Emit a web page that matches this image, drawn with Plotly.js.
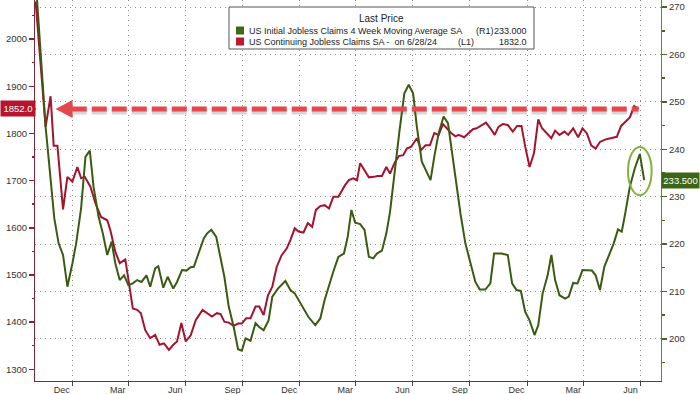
<!DOCTYPE html>
<html>
<head>
<meta charset="utf-8">
<script src="https://cdn.plot.ly/plotly-3.0.1.min.js"></script>
<style>
html,body{margin:0;padding:0;background:#fff;}
#chart{width:700px;height:394px;}
</style>
</head>
<body>
<div id="chart"></div>
<script>
// ---- Data ----
const continuingDates = ['2021-11-03','2021-11-19','2021-11-27','2021-12-02','2021-12-08','2021-12-17','2021-12-24','2022-01-01','2022-01-09','2022-01-15','2022-01-21','2022-01-30','2022-02-07','2022-02-16','2022-02-26','2022-03-03','2022-03-11','2022-03-18','2022-03-27','2022-04-01','2022-04-08','2022-04-15','2022-04-21','2022-04-28','2022-05-06','2022-05-14','2022-05-21','2022-05-28','2022-06-05','2022-06-12','2022-06-18','2022-06-25','2022-07-02','2022-07-10','2022-07-18','2022-07-29','2022-08-05','2022-08-13','2022-08-21','2022-08-27','2022-09-02','2022-09-09','2022-09-17','2022-09-24','2022-09-30','2022-10-07','2022-10-14','2022-10-22','2022-10-28','2022-11-04','2022-11-11','2022-11-18','2022-11-25','2022-12-03','2022-12-11','2022-12-17','2022-12-24','2022-12-30','2023-01-07','2023-01-14','2023-01-21','2023-01-27','2023-02-03','2023-02-10','2023-02-17','2023-02-24','2023-03-04','2023-03-10','2023-03-15','2023-03-21','2023-03-28','2023-04-03','2023-04-08','2023-04-15','2023-04-22','2023-04-30','2023-05-06','2023-05-13','2023-05-20','2023-05-26','2023-06-02','2023-06-09','2023-06-16','2023-06-22','2023-06-29','2023-07-08','2023-07-15','2023-07-22','2023-07-29','2023-08-05','2023-08-12','2023-08-19','2023-08-25','2023-09-01','2023-09-08','2023-09-13','2023-09-22','2023-09-29','2023-10-06','2023-10-12','2023-10-20','2023-10-27','2023-11-03','2023-11-10','2023-11-16','2023-11-23','2023-12-01','2023-12-09','2023-12-16','2023-12-23','2023-12-29','2024-01-05','2024-01-12','2024-01-19','2024-01-25','2024-02-01','2024-02-09','2024-02-15','2024-02-22','2024-03-01','2024-03-07','2024-03-15','2024-03-23','2024-03-30','2024-04-06','2024-04-13','2024-04-20','2024-04-27','2024-05-05','2024-05-14','2024-05-24','2024-05-31','2024-06-06','2024-06-14','2024-06-21','2024-06-28'];
const continuingValues = [2080,1814,1879,1774,1774,1639,1708,1698,1729,1705,1708,1687,1652,1623,1616,1595,1549,1525,1533,1489,1429,1426,1419,1383,1366,1373,1352,1355,1341,1352,1359,1398,1359,1372,1404,1426,1419,1412,1419,1417,1401,1399,1392,1397,1397,1408,1408,1433,1433,1415,1457,1475,1517,1542,1556,1574,1599,1592,1590,1610,1602,1638,1646,1648,1641,1666,1666,1680,1691,1701,1705,1701,1737,1722,1707,1708,1710,1710,1729,1715,1737,1752,1754,1768,1772,1790,1765,1775,1775,1801,1797,1820,1811,1801,1794,1797,1792,1801,1809,1811,1818,1823,1811,1797,1814,1820,1818,1804,1816,1816,1772,1729,1758,1830,1811,1801,1790,1806,1797,1804,1797,1811,1792,1811,1800,1775,1768,1782,1787,1790,1793,1816,1823,1834,1858,1852];

const initialDates = ['2021-11-03','2021-11-19','2021-12-03','2021-12-10','2021-12-17','2021-12-24','2022-01-01','2022-01-07','2022-01-15','2022-01-22','2022-01-29','2022-02-04','2022-02-12','2022-02-19','2022-02-26','2022-03-05','2022-03-11','2022-03-18','2022-03-25','2022-04-01','2022-04-08','2022-04-15','2022-04-22','2022-04-30','2022-05-06','2022-05-14','2022-05-19','2022-05-27','2022-06-03','2022-06-12','2022-06-18','2022-06-26','2022-07-03','2022-07-10','2022-07-15','2022-07-23','2022-07-31','2022-08-05','2022-08-12','2022-08-20','2022-08-27','2022-09-02','2022-09-09','2022-09-17','2022-09-24','2022-09-30','2022-10-06','2022-10-14','2022-10-22','2022-10-28','2022-11-04','2022-11-12','2022-11-18','2022-11-27','2022-12-09','2022-12-17','2022-12-24','2023-01-02','2023-01-09','2023-01-15','2023-01-26','2023-02-03','2023-02-10','2023-02-17','2023-02-24','2023-03-04','2023-03-13','2023-03-19','2023-03-25','2023-03-31','2023-04-08','2023-04-15','2023-04-22','2023-04-29','2023-05-05','2023-05-13','2023-05-20','2023-05-26','2023-06-02','2023-06-10','2023-06-18','2023-06-25','2023-07-02','2023-07-08','2023-07-16','2023-07-23','2023-07-30','2023-08-05','2023-08-12','2023-08-20','2023-08-27','2023-09-02','2023-09-09','2023-09-16','2023-09-24','2023-10-02','2023-10-10','2023-10-17','2023-10-26','2023-11-03','2023-11-09','2023-11-21','2023-12-01','2023-12-08','2023-12-15','2023-12-22','2023-12-29','2024-01-05','2024-01-13','2024-01-19','2024-01-26','2024-02-03','2024-02-09','2024-02-15','2024-02-22','2024-03-02','2024-03-08','2024-03-15','2024-03-22','2024-03-30','2024-04-06','2024-04-14','2024-04-20','2024-04-27','2024-05-04','2024-05-12','2024-05-19','2024-05-26','2024-06-01','2024-06-07','2024-06-14','2024-06-22','2024-06-30','2024-07-07'];
const initialValues = [276,244.8,225.4,220.1,217.7,211.0,215.9,220.1,227.5,238.4,239.7,232.1,225.8,222.2,217.7,220.5,215.9,212.4,213.4,211.3,211.7,212.4,212.0,213.4,211.0,214.9,215.3,210.8,213.1,210.6,212.0,214.5,214.4,215.1,215.2,218.0,221.2,222.2,223.0,221.5,217.3,213.1,206.8,202.5,197.8,197.5,200.1,199.6,203.3,202.5,201.8,203.9,208.9,210.6,212.2,210.3,209.6,207.5,205.7,204.6,202.9,204.3,208.2,211.3,214.2,217.3,218.0,221.5,227.2,224.5,224.2,223.0,217.3,217.0,218.0,218.6,222.2,226.8,234.9,243.7,251.8,253.6,251.8,244.8,237.4,235.6,233.5,238.4,243.4,246.9,245.5,239.8,232.8,226.5,220.1,215.9,212.0,210.4,210.4,211.7,218.0,218.0,217.7,211.7,210.3,210.1,205.7,203.9,200.8,202.9,209.6,213.4,217.7,212.4,209.2,208.5,208.9,211.8,211.7,214.5,214.5,214.4,213.4,210.3,215.2,217.7,220.1,223.1,222.6,226.8,232.1,236.0,239.0,233.5];

const monthLabels = ['Dec','Mar','Jun','Sep','Dec','Mar','Jun','Sep','Dec','Mar','Jun'];
const monthLabelDates = ['2021-12-15','2022-03-15','2022-06-15','2022-09-15','2022-12-15','2023-03-15','2023-06-15','2023-09-15','2023-12-15','2024-03-15','2024-06-15'];
const quarterDates = ['2022-01-01','2022-04-01','2022-07-01','2022-10-01','2023-01-01','2023-04-01','2023-07-01','2023-10-01','2024-01-01','2024-04-01','2024-07-01'];

const leftTicks = [1300,1400,1500,1600,1700,1800,1900,2000];
const rightTicks = [200,210,220,230,240,250,260,270];

const seriesInitialName = 'US Initial Jobless Claims 4 Week Moving Average SA';
const seriesContName = 'US Continuing Jobless Claims SA -\u00a0 on 6/28/24';
const legendInitialLast = '233.000';
const legendContLast = '1832.0';
const arrowLevel = 1852;          // continuing claims level marked by the arrow
const arrowLabel = '1852.0';
const lastInitial = 233.5;
const lastInitialLabel = '233.500';
const arrowHeadDate = '2021-12-05';
const arrowStartDate = '2021-12-31';
const arrowEndDate = '2024-06-28';
const circleDates = ['2024-06-11','2024-07-19'];
const circleLevels = [230.3, 240.5];

// ---- Styling ----
const RED = '#a5132d';
const GREEN = '#3b5a12';
const FONT = 'Liberation Sans, Arial, sans-serif';

const traces = [
  {x: initialDates, y: initialValues, yaxis: 'y2', type: 'scatter', mode: 'lines',
   line: {color: GREEN, width: 2}, hoverinfo: 'skip'},
  {x: continuingDates, y: continuingValues, yaxis: 'y', type: 'scatter', mode: 'lines',
   line: {color: RED, width: 2}, hoverinfo: 'skip'}
];

const W = 626, H = 381, L = 35; // plot area in px for paper conversions
const px = v => (v - L) / W;
const py = v => 1 - v / H;

const shapes = [
  // legend box
  {type: 'rect', xref: 'paper', yref: 'paper', x0: px(229), x1: px(534), y0: py(49), y1: py(7),
   fillcolor: '#ffffff', line: {color: '#555', width: 1}, layer: 'above'},
  {type: 'rect', xref: 'paper', yref: 'paper', x0: px(236), x1: px(244), y0: py(34.5), y1: py(26.5),
   fillcolor: '#3b6a12', line: {width: 0}, layer: 'above'},
  {type: 'rect', xref: 'paper', yref: 'paper', x0: px(236), x1: px(244), y0: py(45.5), y1: py(37.5),
   fillcolor: '#c0162f', line: {width: 0}, layer: 'above'},
  // arrow shadow
  {type: 'line', xref: 'x', yref: 'y', x0: arrowStartDate, x1: arrowEndDate,
   ysizemode: 'pixel', yanchor: arrowLevel, y0: -3, y1: -3,
   line: {color: 'rgba(90,90,90,0.25)', width: 5, dash: '15px,5px'}, layer: 'above'},
  // arrow body
  {type: 'line', xref: 'x', yref: 'y', x0: arrowStartDate, x1: arrowEndDate, y0: arrowLevel, y1: arrowLevel,
   line: {color: '#e4474c', width: 5, dash: '15px,5px'}, layer: 'above'},
  // arrow head
  {type: 'path', xref: 'x', yref: 'y', xsizemode: 'pixel', ysizemode: 'pixel',
   xanchor: arrowHeadDate, yanchor: arrowLevel, path: 'M 0 0 L 17 9 L 17 -9 Z',
   fillcolor: '#e4474c', line: {width: 0}, layer: 'above'},
  // highlight ellipse
  {type: 'circle', xref: 'x', yref: 'y2', x0: circleDates[0], x1: circleDates[1], y0: circleLevels[0], y1: circleLevels[1],
   line: {color: '#84b23a', width: 2}, layer: 'above'},
  // label pointers
  {type: 'path', xref: 'paper', yref: 'y', xsizemode: 'pixel', ysizemode: 'pixel',
   xanchor: 0, yanchor: arrowLevel, path: 'M -3 -6 L 1 0 L -3 6 Z',
   fillcolor: '#b8142e', line: {width: 0}, layer: 'above'},
  {type: 'path', xref: 'paper', yref: 'y2', xsizemode: 'pixel', ysizemode: 'pixel',
   xanchor: 1, yanchor: lastInitial, path: 'M 5 -6 L 1 0 L 5 6 Z',
   fillcolor: '#3d6614', line: {width: 0}, layer: 'above'}
];

const lf = {family: FONT, size: 9, color: '#222'};
const annotations = [
  {xref: 'paper', yref: 'paper', x: px(381.7), y: py(19), text: 'Last Price', showarrow: false, xanchor: 'center', yanchor: 'middle', font: {family: FONT, size: 10, color: '#222'}},
  {xref: 'paper', yref: 'paper', x: px(246.5), y: py(30.7), text: seriesInitialName, showarrow: false, xanchor: 'left', yanchor: 'middle', font: lf},
  {xref: 'paper', yref: 'paper', x: px(474), y: py(30.7), text: '(R1)', showarrow: false, xanchor: 'left', yanchor: 'middle', font: lf},
  {xref: 'paper', yref: 'paper', x: px(528.5), y: py(30.7), text: legendInitialLast, showarrow: false, xanchor: 'right', yanchor: 'middle', font: lf},
  {xref: 'paper', yref: 'paper', x: px(246.5), y: py(41.7), text: seriesContName, showarrow: false, xanchor: 'left', yanchor: 'middle', font: lf},
  {xref: 'paper', yref: 'paper', x: px(455.7), y: py(41.7), text: '(L1)', showarrow: false, xanchor: 'left', yanchor: 'middle', font: lf},
  {xref: 'paper', yref: 'paper', x: px(528.5), y: py(41.7), text: legendContLast, showarrow: false, xanchor: 'right', yanchor: 'middle', font: lf},
  // value tags on the axes
  {xref: 'paper', yref: 'y', x: px(0), y: arrowLevel, text: arrowLabel, showarrow: false, xanchor: 'left', yanchor: 'middle',
   bgcolor: '#b8142e', borderpad: 1, font: {family: FONT, size: 9.5, color: '#ffffff'}, width: 32, height: 13},
  {xref: 'paper', yref: 'y2', x: px(700), y: lastInitial, text: lastInitialLabel, showarrow: false, xanchor: 'right', yanchor: 'middle',
   bgcolor: '#3d6614', borderpad: 1, font: {family: FONT, size: 9.5, color: '#ffffff'}, width: 35, height: 13}
];

const layout = {
  width: 700, height: 394,
  margin: {l: 35, r: 39, t: 0, b: 13, pad: 0},
  paper_bgcolor: '#ffffff', plot_bgcolor: '#ffffff',
  showlegend: false,
  font: {family: FONT, size: 9.5, color: '#333'},
  xaxis: {
    type: 'date', range: ['2021-11-02', '2024-08-03'], automargin: false,
    tickmode: 'array', tickvals: monthLabelDates, ticktext: monthLabels,
    ticks: '', ticklen: 0, showgrid: false, zeroline: false,
    showline: true, linecolor: '#444', linewidth: 1,
    tickfont: {family: FONT, size: 9, color: '#333'},
    minor: {tickmode: 'array', tickvals: quarterDates, ticks: 'outside', ticklen: 4, tickcolor: '#444',
            showgrid: true, gridcolor: '#8a8a8a', griddash: '1px,4px', gridwidth: 1}
  },
  yaxis: {
    range: [1275.2, 2083], automargin: false,
    tickmode: 'array', tickvals: leftTicks, ticktext: leftTicks.map(String),
    ticks: 'outside', ticklen: 5, tickwidth: 1.5, tickcolor: RED,
    showline: true, linecolor: '#7a2a38', linewidth: 1,
    showgrid: false, zeroline: false,
    tickfont: {family: FONT, size: 9.5, color: '#333'},
    minor: {dtick: 50, tick0: 1250, ticks: 'outside', ticklen: 2, tickcolor: RED, showgrid: false}
  },
  yaxis2: {
    overlaying: 'y', side: 'right', range: [191.1, 271.5], automargin: false,
    tickmode: 'array', tickvals: rightTicks, ticktext: rightTicks.map(String),
    ticks: 'outside', ticklen: 5, tickwidth: 1.5, tickcolor: '#4c6420',
    showline: true, linecolor: '#6f7f3a', linewidth: 1,
    showgrid: true, gridcolor: '#8a8a8a', griddash: '1px,4px', gridwidth: 1, zeroline: false,
    tickfont: {family: FONT, size: 9.5, color: '#333'},
    minor: {dtick: 5, tick0: 195, ticks: 'outside', ticklen: 3, tickcolor: '#4c6420', showgrid: false}
  },
  shapes: shapes,
  annotations: annotations
};

Plotly.newPlot('chart', traces, layout, {displayModeBar: false, staticPlot: true});
</script>
</body>
</html>
